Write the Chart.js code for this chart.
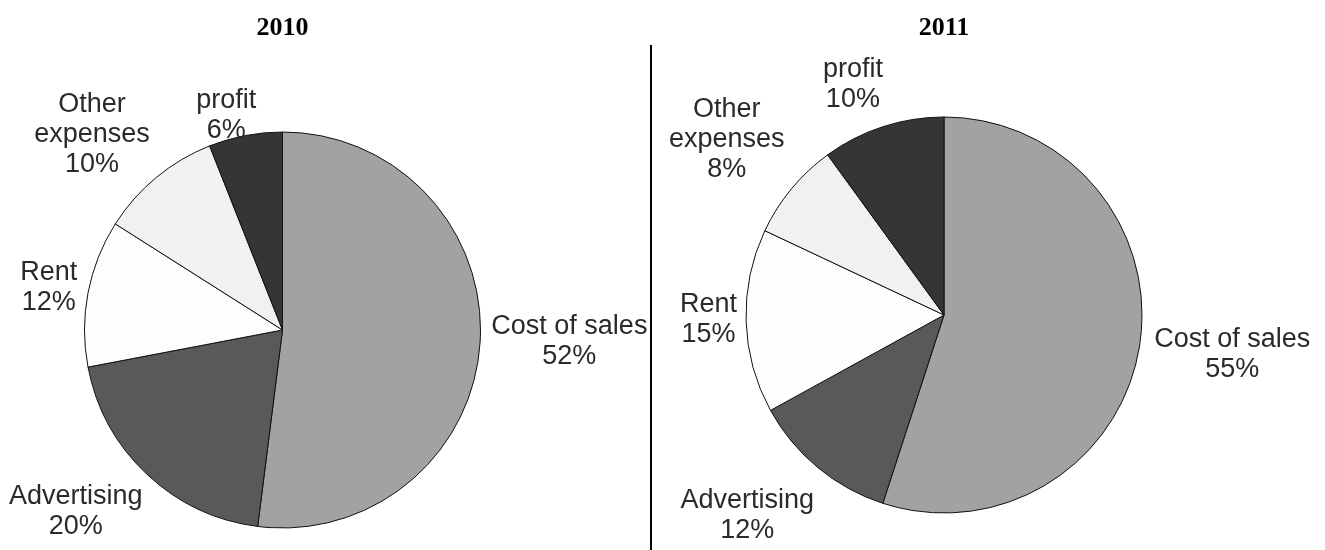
<!DOCTYPE html>
<html>
<head>
<meta charset="utf-8">
<script src="https://cdn.jsdelivr.net/npm/chart.js@4"></script>
<style>
  html, body { margin: 0; padding: 0; background: #fff; }
  #wrap { position: relative; width: 1325px; height: 550px; overflow: hidden; }
  .half { position: absolute; top: 0; height: 550px; }
  #left { left: 0; width: 650px; }
  #right { left: 652px; width: 673px; }
  #divider { position: absolute; left: 650px; top: 45px; width: 2px; height: 505px; background: #000; }
</style>
</head>
<body>
<div id="wrap">
  <div class="half" id="left"><canvas id="pie2010"></canvas></div>
  <div id="divider"></div>
  <div class="half" id="right"><canvas id="pie2011"></canvas></div>
</div>
<script>
// ── Data ──
var categories = ['Cost of sales', 'Advertising', 'Rent', 'Other expenses', 'profit'];
var years = ['2010', '2011'];
var values2010 = [52, 20, 12, 10, 6];
var values2011 = [55, 12, 15, 8, 10];

// ── Styles ──
var sliceColors = ['#a2a2a2', '#595959', '#fdfdfd', '#f1f1f1', '#353535'];
var labelFont = '27px "Liberation Sans", Arial, sans-serif';
var titleFont = 'bold 26px "Liberation Serif", "Times New Roman", serif';

// label placement: distance (x outer radius) and angle nudge (deg) from slice middle
var labelLayout2010 = [[1.45, -1.2], [1.39, 5.5], [1.20, -0.4], [1.38, -4.6], [1.12, -3.9]];
var labelLayout2011 = [[1.47, -1.1], [1.42, 4.8], [1.19, 0.6], [1.41, -0.7], [1.25, -3.6]];

function wrapLabel(name) {
  return name === 'Other expenses' ? ['Other', 'expenses'] : [name];
}

// titles + "name / value%" labels around each pie
var sliceLabels = {
  id: 'sliceLabels',
  afterDraw: function(chart, args, opts) {
    var ctx = chart.ctx;
    var meta = chart.getDatasetMeta(0);
    var values = chart.data.datasets[0].data;
    ctx.save();
    ctx.textAlign = 'center';
    ctx.textBaseline = 'middle';

    ctx.font = titleFont;
    ctx.fillStyle = '#000';
    ctx.fillText(opts.title, meta.data[0].x, 28);

    ctx.font = labelFont;
    ctx.fillStyle = '#2a2a2a';
    meta.data.forEach(function(arc, i) {
      var lay = opts.layout[i];
      var mid = (arc.startAngle + arc.endAngle) / 2 + lay[1] * Math.PI / 180;
      var r = arc.outerRadius * lay[0];
      var cx = arc.x + r * Math.cos(mid);
      var cy = arc.y + r * Math.sin(mid);
      var lines = wrapLabel(chart.data.labels[i]).concat([values[i] + '%']);
      var lh = 30;
      var y0 = cy - (lines.length - 1) * lh / 2;
      lines.forEach(function(t, k) {
        ctx.fillText(t, cx, y0 + k * lh);
      });
    });
    ctx.restore();
  }
};

function makePie(id, values, title, layout, padding) {
  return new Chart(document.getElementById(id), {
    type: 'pie',
    data: {
      labels: categories,
      datasets: [{
        data: values,
        backgroundColor: sliceColors,
        borderColor: '#111',
        borderWidth: 1
      }]
    },
    options: {
      responsive: true,
      maintainAspectRatio: false,
      animation: false,
      layout: { padding: padding },
      plugins: {
        legend: { display: false },
        tooltip: { enabled: false },
        sliceLabels: { title: title, layout: layout }
      }
    },
    plugins: [sliceLabels]
  });
}

makePie('pie2010', values2010, years[0], labelLayout2010,
  { left: 84, right: 169, top: 131.5, bottom: 21.5 });
makePie('pie2011', values2011, years[1], labelLayout2011,
  { left: 93.5, right: 182.5, top: 116.5, bottom: 36.5 });
</script>
</body>
</html>
